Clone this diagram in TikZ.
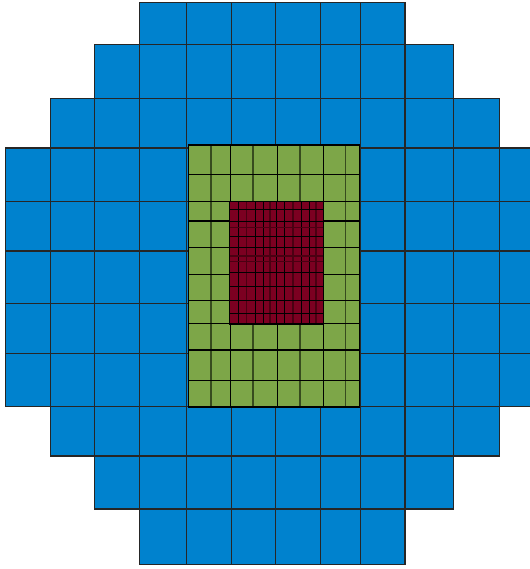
\documentclass[tikz,border=0pt]{standalone}
\definecolor{cblue}{RGB}{0,130,206}
\definecolor{cgreen}{RGB}{125,166,72}
\definecolor{cred}{RGB}{124,0,33}
\definecolor{dgreen}{RGB}{55,75,30}
\definecolor{dred}{RGB}{75,0,18}
\begin{document}
\begin{tikzpicture}[x=0.5pt,y=-0.5pt,
  cell/.style={fill=cblue,draw=black!85,line width=0.6pt},
  gline/.style={black,line width=0.55pt},
  dgline/.style={dgreen,line width=0.6pt},
  rline/.style={black,line width=0.5pt},
  drline/.style={dred,line width=0.6pt},
  frame/.style={draw=black,line width=0.8pt}]
\useasboundingbox (0,0) rectangle (530,569);
\def\XA{{5.7,50.3,94.7,139.3,186.7,231.7,275.3,320.3,360.7,405,453.3,499.7,532}}
\def\YA{{2.7,44.3,98.3,148,201.7,251,303.7,353.7,406.7,456,509,564.7}}
% blue stepped grid
\foreach \r/\s/\e in {0/3/9,1/2/10,2/1/11,3/0/12,4/0/12,5/0/12,6/0/12,7/0/12,8/1/11,9/2/10,10/3/9}{
  \pgfmathtruncatemacro\ee{\e-1}
  \foreach \i in {\s,...,\ee}{
    \pgfmathsetmacro\xa{\XA[\i]}
    \pgfmathsetmacro\xb{\XA[\i+1]}
    \pgfmathsetmacro\ya{\YA[\r]}
    \pgfmathsetmacro\yb{\YA[\r+1]}
    \draw[cell] (\xa,\ya) rectangle (\xb,\yb);
  }
}
% green region
\fill[cgreen] (188.5,144.7) rectangle (359.3,406.7);
\foreach \x in {211,253,300,345.7}{\draw[dgline] (\x,144.7) -- (\x,406.7);}
\foreach \x in {230.3,277.3,323.3}{\draw[gline] (\x,144.7) -- (\x,406.7);}
\foreach \y in {174.3,201.3,221,247.3,274.5,300.3,323.7,350,380.3}{\draw[gline] (188.5,\y) -- (359.3,\y);}
\draw[frame] (188.5,144.7) rectangle (359.3,406.7);
% red region
\fill[cred] (229.3,201.3) rectangle (323.5,323.7);
\foreach \x in {246.5,270,293,316}{\draw[drline] (\x,201.3) -- (\x,323.7);}
\foreach \x in {238.5,255,263,276.7,284.7,301.3,309}{\draw[rline] (\x,201.3) -- (\x,323.7);}
\foreach \y in {227.3,256,261.7}{\draw[drline] (229.3,\y) -- (323.5,\y);}
\foreach \y in {209.3,221.7,236.7,247.3,272.7,286,300.7,313.3}{\draw[rline] (229.3,\y) -- (323.5,\y);}
\draw[frame] (229.3,201.3) rectangle (323.5,323.7);
\end{tikzpicture}
\end{document}
